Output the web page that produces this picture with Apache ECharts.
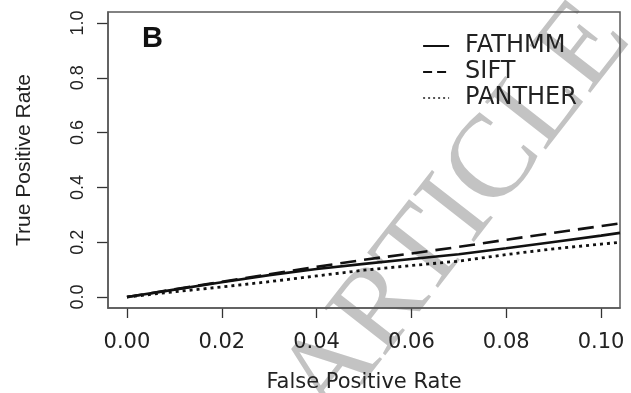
<!DOCTYPE html>
<html>
<head>
<meta charset="utf-8">
<script src="https://cdn.jsdelivr.net/npm/echarts@6/dist/echarts.min.js"></script>
<style>html,body{margin:0;padding:0;background:#fff;}#c{width:631px;height:393px;}</style>
</head>
<body>
<div id="c"></div>
<script>
// Data
var fpr     = [0, 0.01, 0.02, 0.03, 0.04, 0.05, 0.06, 0.07, 0.08, 0.09, 0.10, 0.104];
var fathmm  = [0, 0.027, 0.054, 0.080, 0.102, 0.121, 0.139, 0.156, 0.178, 0.201, 0.224, 0.234];
var sift    = [0, 0.028, 0.056, 0.083, 0.110, 0.136, 0.159, 0.183, 0.209, 0.234, 0.259, 0.269];
var panther = [0, 0.019, 0.037, 0.056, 0.077, 0.098, 0.115, 0.131, 0.155, 0.176, 0.193, 0.200];
var seriesNames = ['FATHMM', 'SIFT', 'PANTHER'];
var xTicks = [0, 0.02, 0.04, 0.06, 0.08, 0.10];
var yTicks = [0, 0.2, 0.4, 0.6, 0.8, 1.0];

function pairs(ys){ return fpr.map(function(x,i){ return [x, ys[i]]; }); }

var chart = echarts.init(document.getElementById('c'), null, {renderer:'canvas'});
var hFont = 'DejaVu Sans';
var vFont = 'Liberation Sans';
chart.setOption({
  backgroundColor: '#fff',
  animation: false,
  grid: {left:108, right:11, top:12, bottom:85, outerBoundsMode:'none', containLabel:false,
         show:true, borderColor:'#5a5a5a', borderWidth:1.5, backgroundColor:'transparent', z: 3},
  xAxis: {
    type:'value', min:-0.004, max:0.104,
    axisLine:{show:true, onZero:false, lineStyle:{color:'#5a5a5a', width:1.5}},
    splitLine:{show:false},
    axisTick:{show:true, inside:false, length:10, customValues:xTicks, lineStyle:{color:'#333', width:1.3}},
    axisLabel:{show:true, customValues:xTicks, margin:24, fontFamily:hFont, fontSize:21, color:'#222',
      formatter:function(v){ return v.toFixed(2); }},
    name:'False Positive Rate', nameLocation:'middle', nameGap:64,
    nameTextStyle:{fontFamily:hFont, fontSize:21, color:'#222'}
  },
  yAxis: {
    type:'value', min:-0.04, max:1.04,
    axisLine:{show:true, onZero:false, lineStyle:{color:'#5a5a5a', width:1.5}},
    splitLine:{show:false},
    axisTick:{show:true, inside:false, length:11, customValues:yTicks, lineStyle:{color:'#333', width:1.3}},
    axisLabel:{show:true, customValues:yTicks, rotate:90, margin:21, fontFamily:vFont, fontSize:18, color:'#222',
      formatter:function(v){ return v.toFixed(1); }},
    name:'True Positive Rate', nameLocation:'middle', nameGap:73, nameRotate:90,
    nameTextStyle:{fontFamily:vFont, fontSize:21, color:'#222'}
  },
  legend: {
    orient:'vertical', left:417, top:29, itemWidth:26, itemHeight:14, itemGap:2,
    data: [
      {name: seriesNames[0]},
      {name: seriesNames[1], lineStyle:{type:[9,5], width:2.2}},
      {name: seriesNames[2], lineStyle:{type:[2,3], width:1.8, color:'#555'}}
    ],
    itemStyle:{opacity:0, color:'transparent', borderWidth:0},
    textStyle:{fontFamily:hFont, fontSize:24, color:'#222', padding:[0,0,0,11]}
  },
  graphic: [
    {type:'text', left:142, top:24, z:10,
     style:{text:'B', fontFamily:'Liberation Sans', fontWeight:'bold', fontSize:29, fill:'#111'}},
    {type:'text', x:457, y:213, rotation: 52*Math.PI/180, z:-1, silent:true,
     style:{text:'ARTICLE', fontFamily:'Liberation Serif', fontSize:118, fill:'#c3c3c3',
            align:'center', verticalAlign:'middle'}}
  ],
  series: [
    {name:seriesNames[0], type:'line', data:pairs(fathmm), showSymbol:false, symbol:'none', clip:true,
     lineStyle:{color:'#111', width:2.6, type:'solid'}, itemStyle:{color:'#111'}},
    {name:seriesNames[1], type:'line', data:pairs(sift), showSymbol:false, symbol:'none', clip:true,
     lineStyle:{color:'#111', width:2.6, type:[16,8]}, itemStyle:{color:'#111'}},
    {name:seriesNames[2], type:'line', data:pairs(panther), showSymbol:false, symbol:'none', clip:true,
     lineStyle:{color:'#111', width:2.8, type:[3,4]}, itemStyle:{color:'#111'}}
  ]
});
</script>
</body>
</html>
